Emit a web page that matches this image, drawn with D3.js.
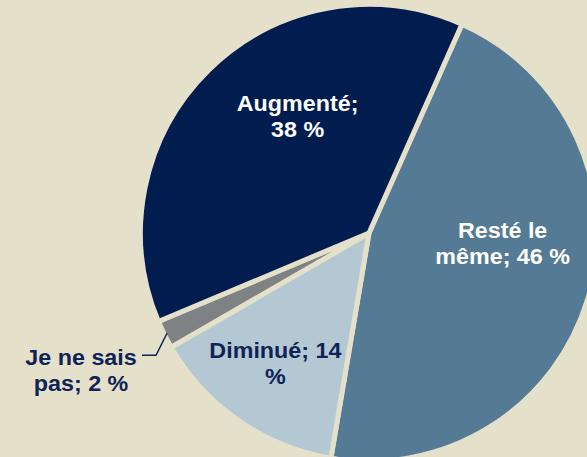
<!DOCTYPE html>
<html>
<head>
<meta charset="utf-8">
<style>
  html, body { margin: 0; padding: 0; background: #e5e0c9; }
  svg { display: block; }
  text { font-family: "Liberation Sans", Arial, sans-serif; font-weight: bold; }
</style>
</head>
<body>
<div id="viz"></div>
<script src="https://d3js.org/d3.v7.min.js"></script>
<script>
  // data, in drawing order (clockwise from the top-right boundary)
  const categories = ["Resté le même", "Diminué", "Je ne sais pas", "Augmenté"];
  const values = [46, 14, 2, 38];
  const labelLines = [
    ["Resté le", "même; 46 %"],
    ["Diminué; 14", "%"],
    ["Je ne sais", "pas; 2 %"],
    ["Augmenté;", "38 %"]
  ];

  const colors = ["#557a95", "#b4c8d4", "#7f8285", "#011d50"];
  const textColors = ["#ffffff", "#0e2457", "#0e2457", "#ffffff"];

  const width = 587,
        height = 457,
        cx = 369,
        cy = 233,
        radius = 228.5,
        bg = "#e5e0c9";

  const startDeg = 24;

  const svg = d3.select("#viz").append("svg")
      .attr("width", width)
      .attr("height", height);

  svg.append("rect")
      .attr("width", width)
      .attr("height", height)
      .attr("fill", bg);

  const g = svg.append("g")
      .attr("transform", `translate(${cx},${cy})`);

  const pie = d3.pie()
      .sort(null)
      .startAngle(startDeg * Math.PI / 180)
      .endAngle(startDeg * Math.PI / 180 + 2 * Math.PI);

  const arcs = pie(values);

  const arc = d3.arc()
      .innerRadius(0)
      .outerRadius(radius);

  g.selectAll("path.slice")
      .data(arcs)
    .enter().append("path")
      .attr("class", "slice")
      .attr("d", arc)
      .attr("fill", (d, i) => colors[i])
      .attr("stroke", bg)
      .attr("stroke-width", 5)
      .attr("stroke-linejoin", "miter");

  // label placement: radius and angle nudge per slice (layout only)
  const labelRadius = [134, 160, null, 137];
  const labelAngleShift = [-12.5, 1, 0, 13];
  const lineHeight = 26;

  arcs.forEach((d, i) => {
    const lines = labelLines[i];
    let x, y;
    if (labelRadius[i] !== null) {
      const a = (d.startAngle + d.endAngle) / 2 + labelAngleShift[i] * Math.PI / 180;
      x = Math.sin(a) * labelRadius[i];
      y = -Math.cos(a) * labelRadius[i];
    } else {
      // outside label with leader line
      const a = (d.startAngle + d.endAngle) / 2;
      const ox = Math.sin(a) * (radius - 3),
            oy = -Math.cos(a) * (radius - 3);
      const ex = ox - 11,
            ey = oy + 22;
      g.append("polyline")
          .attr("points", [[ox, oy], [ex, ey], [ex - 14, ey]].map(p => p.join(",")).join(" "))
          .attr("fill", "none")
          .attr("stroke", textColors[i])
          .attr("stroke-width", 1.5);
      x = ex - 14 - 61;
      y = ey + 15;
    }
    const t = g.append("text")
        .attr("transform", `translate(${x},${y}) scale(1.06,1)`)
        .attr("text-anchor", "middle")
        .attr("fill", textColors[i])
        .style("font-size", "22px");
    lines.forEach((line, j) => {
      t.append("tspan")
          .attr("x", 0)
          .attr("y", (j - (lines.length - 1) / 2) * lineHeight + 8)
          .text(line);
    });
  });
</script>
</body>
</html>
